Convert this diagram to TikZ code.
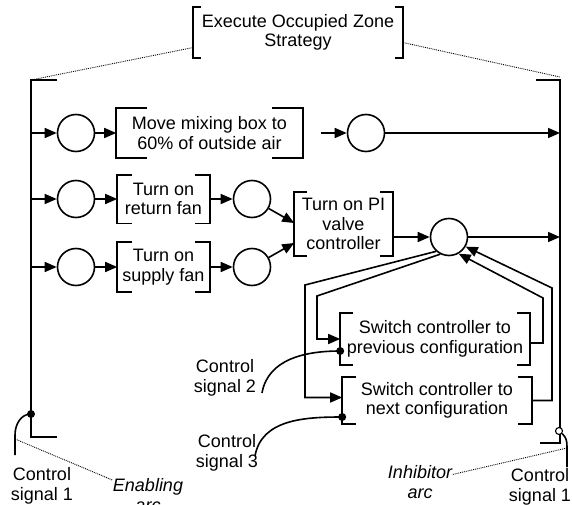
\documentclass[tikz,border=0pt]{standalone}
\usepackage{fontspec}
\setmainfont{Liberation Sans}
\usetikzlibrary{arrows.meta}
\newcommand{\diagfont}{\fontsize{18}{19.5}\selectfont}

\begin{document}
\begin{tikzpicture}[x=1pt, y=-1pt, line width=1.6pt, font=\diagfont,
		place/.style={circle, draw, minimum size=37pt, inner sep=0pt},
		task/.style={align=center, inner sep=0pt},
		arc/.style={-{Triangle[length=12pt,width=10pt]}},
		hint/.style={densely dotted, line width=0.9pt},
		tip/.style={circle, fill, inner sep=0pt, minimum size=8pt},
		note/.style={align=center, inner sep=0pt},
		slanted/.style={note, font=\diagfont\itshape}]
		\useasboundingbox (0,0) rectangle (572,505);
		\node[task, minimum width=208pt, minimum height=49pt] (exec) at (298,32.5) {Execute Occupied Zone\\Strategy};
		\node[task, minimum width=185pt, minimum height=48pt] (mix) at (209.5,133) {Move mixing box to\\60\% of outside air};
		\node[task, minimum width=91pt, minimum height=47pt] (ret) at (163.5,199) {Turn on\\return fan};
		\node[task, minimum width=91pt, minimum height=48pt] (sup) at (163.5,267) {Turn on\\supply fan};
		\node[task, minimum width=97pt, minimum height=62pt] (pi) at (343.5,224) {Turn on PI\\valve\\controller};
		\node[task, minimum width=188pt, minimum height=50pt] (prev) at (435,339) {Switch controller to\\previous configuration};
		\node[task, minimum width=188pt, minimum height=45pt] (next) at (437,400.5) {Switch controller to\\next configuration};
		\foreach \n/\t in {exec/8, mix/31, ret/15, sup/15, pi/13, prev/13, next/14}
			\draw ([xshift=\t pt]\n.north west) -- (\n.north west) -- (\n.south west) -- ([xshift=\t pt]\n.south west)
				([xshift=-\t pt]\n.north east) -- (\n.north east) -- (\n.south east) -- ([xshift=-\t pt]\n.south east);
		\node[place] (p1) at (76,133) {};
		\node[place] (p2) at (76,199) {};
		\node[place] (p3) at (76,267) {};
		\node[place] (p4) at (366,133) {};
		\node[place] (p5) at (252,199) {};
		\node[place] (p6) at (252,267) {};
		\node[place] (pc) at (449,237) {};
		\coordinate (lt) at (31,80);
		\coordinate (lb) at (31,437);
		\coordinate (rt) at (560,80);
		\coordinate (rb) at (560,443);
		\draw ([xshift=26pt]lt) -- (lt) -- (lb) -- ++(26,0);
		\draw ([xshift=-24pt]rt) -- (rt) -- (rb) -- ++(-20,0);
		\draw[arc] (p1 -| lt) -- (p1);
		\draw[arc] (p1) -- (mix);
		\draw[arc] ([xshift=18pt]mix.east) -- (p4);
		\draw[arc] (p4) -- (p4 -| rt);
		\draw[arc] (p2 -| lt) -- (p2);
		\draw[arc] (p2) -- (ret);
		\draw[arc] (ret) -- (p5);
		\draw[arc] (p5) -- ([yshift=1pt]pi.west);
		\draw[arc] (p3 -| lt) -- (p3);
		\draw[arc] (p3) -- (sup);
		\draw[arc] (sup) -- (p6);
		\draw[arc] (p6) -- ([yshift=-19pt]pi.west);
		\draw[arc] (pi.east |- pc) -- (pc);
		\draw[arc] (pc) -- (pc -| rt);
		\coordinate (ol) at (305,285);
		\coordinate (il) at (317,296);
		\coordinate (ir) at (543,298);
		\coordinate (or) at (552,288);
		\draw[arc] (pc.228) -- (ol) |- ([yshift=3pt]next.west);
		\draw[arc] (pc.243) -- (il) |- (prev.west);
		\draw[arc] ([yshift=-4pt]prev.east) -| (ir) -- (pc.300);
		\draw[arc] (next.east) -| (or) -- (pc.330);
		\draw[hint] ([yshift=-15pt]exec.west) -- (lt);
		\draw[hint] ([yshift=-10pt]exec.east) -- ([yshift=3pt]rt);
		\node[note] (cs1) at (42,486) {Control\\signal 1};
		\node[note] (cs2) at (225,378) {Control\\signal 2};
		\node[note] (cs3) at (227,453) {Control\\signal 3};
		\node[note] (cs4) at (540,487) {Control\\signal 1};
		\node[slanted] (en) at (148,495) {Enabling\\arc};
		\node[slanted] (inl) at (420,482) {Inhibitor\\arc};
		\coordinate (s1) at (31,414);
		\coordinate (s2) at ([yshift=-12pt]prev.west);
		\coordinate (s3) at ([yshift=-16.5pt]next.west);
		\coordinate (c1) at (15,455);
		\coordinate (c2) at (262,393);
		\coordinate (c3) at (255,456);
		\coordinate (c4) at (567,467);
		\draw (s1) to[out=180,in=90] ([yshift=20pt]c1) -- (c1);
		\draw (s2) to[out=180,in=80] (c2);
		\draw (s3) to[out=180,in=80] (c3);
		\node[tip] (d1) at (s1) {};
		\node[tip] (d2) at (s2) {};
		\node[tip] (d3) at (s3) {};
		\node[circle, draw, fill=white, inner sep=0pt, minimum size=7pt, line width=1.1pt] (inh) at (559,431) {};
		\draw (inh) to[out=-40,in=90] ([yshift=20pt]c4) -- (c4);
		\draw[hint] ([yshift=16pt]c1) -- (en);
		\draw[hint] (inl) -- ([yshift=19pt]c4);
	\end{tikzpicture}
\end{document}
